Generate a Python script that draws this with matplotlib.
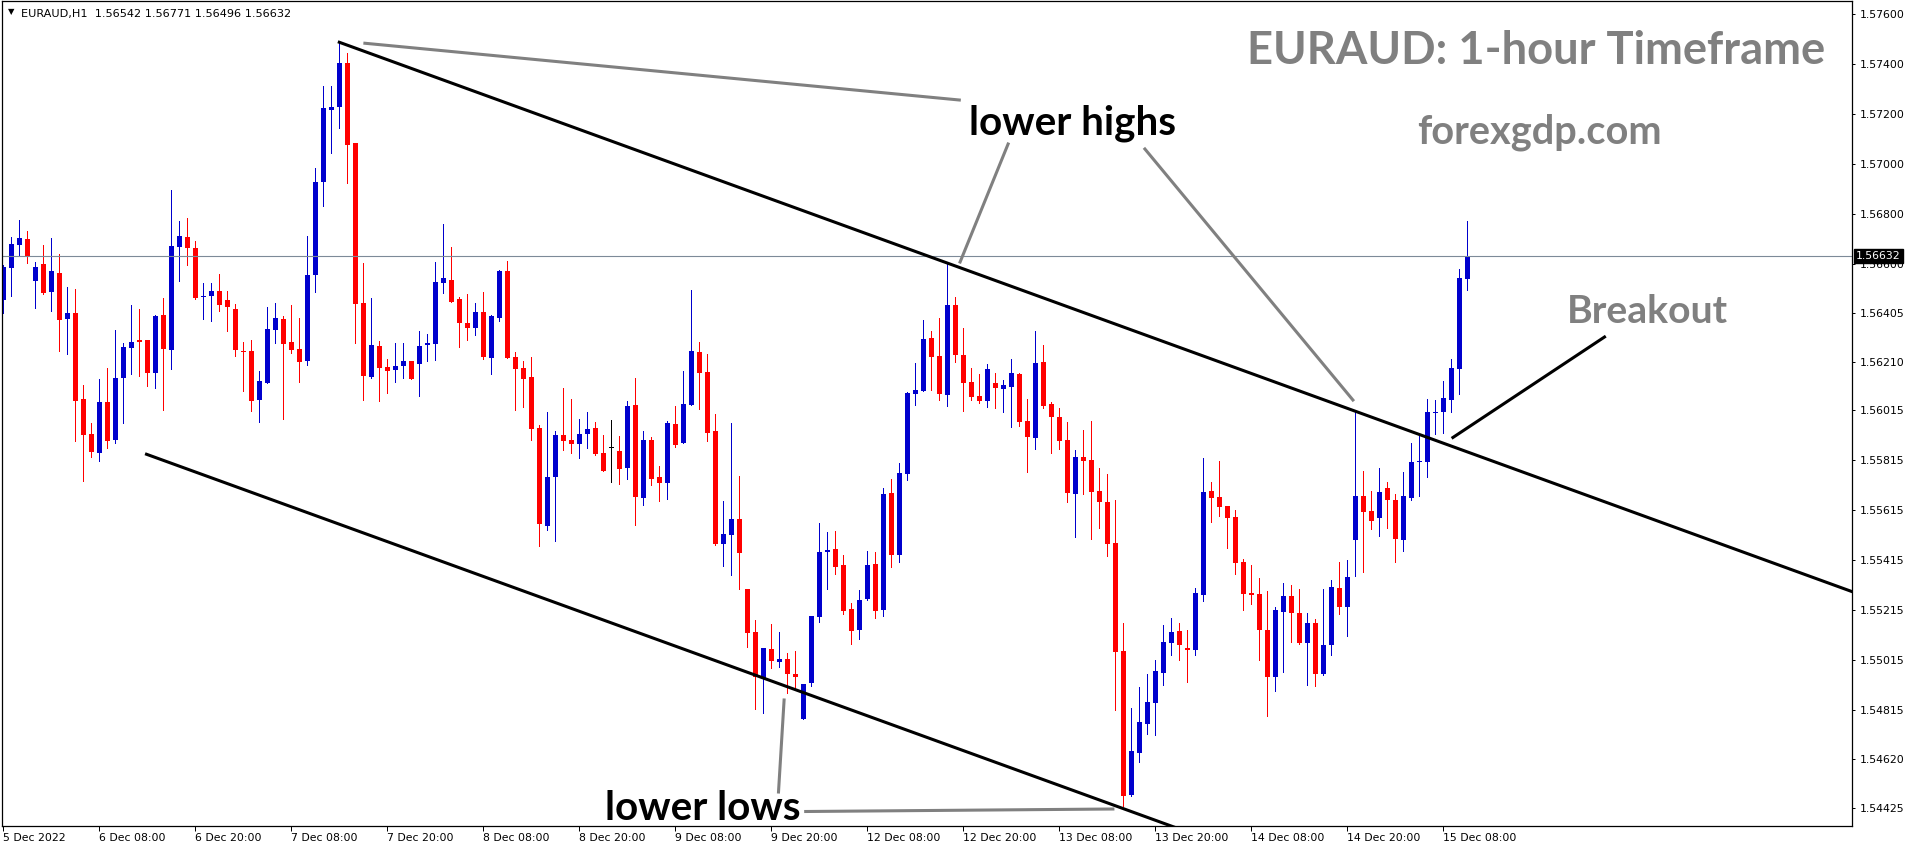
import numpy as np
import matplotlib
matplotlib.use('Agg')
import matplotlib.pyplot as plt

# EURAUD H1 bars, first bar 5 Dec 20:00, last bar 15 Dec 10:00
opens = [
    1.56456, 1.56584, 1.56676, 1.56700, 1.56532, 1.56600, 1.56488, 1.56564, 1.56380, 1.56404,
    1.56060, 1.55920, 1.55844, 1.56048, 1.55896, 1.56144, 1.56264, 1.56296, 1.56296, 1.56164,
    1.56396, 1.56256, 1.56668, 1.56708, 1.56664, 1.56468, 1.56472, 1.56492, 1.56456, 1.56420,
    1.56252, 1.56252, 1.56056, 1.56124, 1.56336, 1.56380, 1.56288, 1.56260, 1.56212, 1.56556,
    1.56928, 1.57216, 1.57228, 1.57404, 1.57084, 1.56444, 1.56148, 1.56272, 1.56188, 1.56176,
    1.56192, 1.56212, 1.56200, 1.56276, 1.56280, 1.56524, 1.56536, 1.56460, 1.56364, 1.56344,
    1.56408, 1.56224, 1.56384, 1.56572, 1.56228, 1.56184, 1.56148, 1.55944, 1.55552, 1.55748,
    1.55916, 1.55896, 1.55880, 1.55920, 1.55944, 1.55844, 1.55864, 1.55852, 1.55784, 1.56036,
    1.55664, 1.55896, 1.55748, 1.55724, 1.55960, 1.55884, 1.56036, 1.56248, 1.56168, 1.55932,
    1.55480, 1.55516, 1.55580, 1.55300, 1.55128, 1.54944, 1.55060, 1.55008, 1.55020, 1.54960,
    1.54780, 1.54924, 1.55188, 1.55448, 1.55460, 1.55396, 1.55220, 1.55136, 1.55260, 1.55400,
    1.55216, 1.55684, 1.55436, 1.55760, 1.56080, 1.56092, 1.56304, 1.56232, 1.56076, 1.56436,
    1.56236, 1.56128, 1.56072, 1.56052, 1.56124, 1.56100, 1.56108, 1.56160, 1.55972, 1.55904,
    1.56208, 1.56040, 1.55988, 1.55896, 1.55680, 1.55828, 1.55816, 1.55692, 1.55648, 1.55484,
    1.55052, 1.54476, 1.54644, 1.54760, 1.54844, 1.54964, 1.55084, 1.55132, 1.55064, 1.55056,
    1.55276, 1.55692, 1.55668, 1.55632, 1.55588, 1.55408, 1.55284, 1.55280, 1.55136, 1.54948,
    1.55208, 1.55272, 1.55204, 1.55084, 1.55164, 1.54960, 1.55076, 1.55304, 1.55228, 1.55496,
    1.55672, 1.55612, 1.55584, 1.55704, 1.55656, 1.55496, 1.55664, 1.55808, 1.55808, 1.56004,
    1.56008, 1.56056, 1.56180, 1.56542,
]
highs = [
    1.56596, 1.56708, 1.56776, 1.56732, 1.56608, 1.56676, 1.56704, 1.56640, 1.56508, 1.56500,
    1.56116, 1.55964, 1.56140, 1.56184, 1.56336, 1.56284, 1.56436, 1.56420, 1.56296, 1.56396,
    1.56464, 1.56896, 1.56772, 1.56784, 1.56692, 1.56524, 1.56524, 1.56560, 1.56492, 1.56440,
    1.56288, 1.56296, 1.56172, 1.56428, 1.56444, 1.56392, 1.56436, 1.56384, 1.56712, 1.56984,
    1.57312, 1.57312, 1.57488, 1.57444, 1.57084, 1.56604, 1.56464, 1.56292, 1.56220, 1.56284,
    1.56284, 1.56212, 1.56332, 1.56320, 1.56608, 1.56760, 1.56668, 1.56468, 1.56480, 1.56444,
    1.56488, 1.56396, 1.56576, 1.56612, 1.56248, 1.56212, 1.56228, 1.55956, 1.56008, 1.55932,
    1.56104, 1.56060, 1.55980, 1.56008, 1.55968, 1.55916, 1.55976, 1.55912, 1.56052, 1.56144,
    1.55932, 1.55908, 1.55792, 1.55972, 1.56032, 1.56172, 1.56496, 1.56288, 1.56240, 1.56000,
    1.55652, 1.55964, 1.55752, 1.55300, 1.55176, 1.55064, 1.55160, 1.55128, 1.55044, 1.55052,
    1.54920, 1.55192, 1.55564, 1.55528, 1.55532, 1.55436, 1.55244, 1.55296, 1.55452, 1.55448,
    1.55704, 1.55740, 1.55804, 1.56088, 1.56204, 1.56376, 1.56332, 1.56384, 1.56608, 1.56468,
    1.56344, 1.56184, 1.56160, 1.56200, 1.56164, 1.56136, 1.56220, 1.56164, 1.56060, 1.56332,
    1.56276, 1.56048, 1.56024, 1.55968, 1.55856, 1.55936, 1.55972, 1.55784, 1.55760, 1.55656,
    1.55164, 1.54824, 1.54908, 1.54960, 1.55016, 1.55156, 1.55184, 1.55164, 1.55136, 1.55304,
    1.55824, 1.55728, 1.55812, 1.55632, 1.55616, 1.55420, 1.55396, 1.55344, 1.55292, 1.55228,
    1.55324, 1.55316, 1.55300, 1.55204, 1.55180, 1.55300, 1.55336, 1.55408, 1.55416, 1.56012,
    1.55772, 1.55692, 1.55784, 1.55728, 1.55680, 1.55768, 1.55884, 1.55916, 1.56060, 1.56056,
    1.56132, 1.56220, 1.56580, 1.56771,
]
lows = [
    1.56404, 1.56472, 1.56632, 1.56604, 1.56424, 1.56480, 1.56412, 1.56252, 1.56240, 1.55892,
    1.55732, 1.55828, 1.55812, 1.55864, 1.55884, 1.55964, 1.56160, 1.56152, 1.56112, 1.56104,
    1.56016, 1.56180, 1.56532, 1.56596, 1.56460, 1.56380, 1.56372, 1.56412, 1.56332, 1.56232,
    1.56092, 1.56012, 1.55968, 1.56124, 1.56284, 1.55980, 1.56244, 1.56128, 1.56196, 1.56488,
    1.56832, 1.57044, 1.57144, 1.56924, 1.56284, 1.56056, 1.56144, 1.56052, 1.56084, 1.56128,
    1.56144, 1.56140, 1.56072, 1.56212, 1.56216, 1.56484, 1.56448, 1.56268, 1.56296, 1.56316,
    1.56220, 1.56160, 1.56372, 1.56224, 1.56016, 1.56028, 1.55896, 1.55472, 1.55536, 1.55492,
    1.55856, 1.55844, 1.55824, 1.55864, 1.55836, 1.55772, 1.55728, 1.55720, 1.55740, 1.55556,
    1.55636, 1.55716, 1.55652, 1.55660, 1.55868, 1.55884, 1.56036, 1.56020, 1.55892, 1.55476,
    1.55392, 1.55356, 1.55300, 1.55068, 1.54820, 1.54804, 1.54984, 1.54988, 1.54884, 1.54904,
    1.54780, 1.54912, 1.55168, 1.55300, 1.55360, 1.55200, 1.55080, 1.55100, 1.55256, 1.55184,
    1.55192, 1.55388, 1.55408, 1.55736, 1.56036, 1.56092, 1.56096, 1.56056, 1.56032, 1.56208,
    1.56012, 1.56056, 1.56044, 1.56028, 1.56024, 1.56008, 1.55948, 1.55952, 1.55768, 1.55860,
    1.56024, 1.55844, 1.55860, 1.55648, 1.55508, 1.55680, 1.55500, 1.55544, 1.55432, 1.54816,
    1.54432, 1.54472, 1.54608, 1.54720, 1.54716, 1.54916, 1.55036, 1.55016, 1.54928, 1.55036,
    1.55252, 1.55568, 1.55592, 1.55464, 1.55360, 1.55216, 1.55240, 1.55016, 1.54792, 1.54892,
    1.54968, 1.55088, 1.55080, 1.54916, 1.54912, 1.54956, 1.55036, 1.55200, 1.55112, 1.55352,
    1.55368, 1.55540, 1.55512, 1.55544, 1.55408, 1.55452, 1.55656, 1.55672, 1.55748, 1.55920,
    1.55924, 1.56008, 1.56080, 1.56496,
]
closes = [
    1.56588, 1.56680, 1.56704, 1.56632, 1.56588, 1.56484, 1.56572, 1.56376, 1.56404, 1.56052,
    1.55916, 1.55848, 1.56048, 1.55892, 1.56144, 1.56268, 1.56288, 1.56288, 1.56164, 1.56392,
    1.56260, 1.56672, 1.56712, 1.56664, 1.56464, 1.56472, 1.56492, 1.56436, 1.56428, 1.56256,
    1.56248, 1.56052, 1.56132, 1.56340, 1.56384, 1.56280, 1.56256, 1.56208, 1.56556, 1.56928,
    1.57224, 1.57228, 1.57404, 1.57076, 1.56440, 1.56152, 1.56276, 1.56184, 1.56172, 1.56192,
    1.56212, 1.56140, 1.56272, 1.56284, 1.56528, 1.56544, 1.56448, 1.56364, 1.56344, 1.56408,
    1.56228, 1.56392, 1.56572, 1.56224, 1.56180, 1.56140, 1.55940, 1.55560, 1.55748, 1.55916,
    1.55892, 1.55880, 1.55920, 1.55940, 1.55840, 1.55772, 1.55864, 1.55780, 1.56032, 1.55668,
    1.55896, 1.55740, 1.55724, 1.55964, 1.55876, 1.56040, 1.56252, 1.56164, 1.55924, 1.55480,
    1.55520, 1.55580, 1.55444, 1.55124, 1.54948, 1.55064, 1.55012, 1.55020, 1.54960, 1.54948,
    1.54920, 1.55192, 1.55448, 1.55456, 1.55388, 1.55212, 1.55132, 1.55256, 1.55396, 1.55212,
    1.55680, 1.55436, 1.55764, 1.56084, 1.56096, 1.56300, 1.56228, 1.56080, 1.56436, 1.56236,
    1.56124, 1.56068, 1.56052, 1.56180, 1.56104, 1.56116, 1.56164, 1.55968, 1.55908, 1.56204,
    1.56032, 1.55988, 1.55892, 1.55684, 1.55828, 1.55812, 1.55688, 1.55648, 1.55480, 1.55048,
    1.54472, 1.54652, 1.54768, 1.54848, 1.54972, 1.55088, 1.55128, 1.55076, 1.55056, 1.55284,
    1.55688, 1.55664, 1.55628, 1.55584, 1.55404, 1.55280, 1.55276, 1.55136, 1.54948, 1.55216,
    1.55272, 1.55204, 1.55084, 1.55164, 1.54960, 1.55076, 1.55308, 1.55228, 1.55348, 1.55672,
    1.55608, 1.55572, 1.55688, 1.55656, 1.55500, 1.55672, 1.55808, 1.55812, 1.56008, 1.56008,
    1.56064, 1.56184, 1.56544, 1.56632,
]

date_labels = ['5 Dec 2022', '6 Dec 08:00', '6 Dec 20:00', '7 Dec 08:00', '7 Dec 20:00',
               '8 Dec 08:00', '8 Dec 20:00', '9 Dec 08:00', '9 Dec 20:00', '12 Dec 08:00',
               '12 Dec 20:00', '13 Dec 08:00', '13 Dec 20:00', '14 Dec 08:00', '14 Dec 20:00',
               '15 Dec 08:00']
price_ticks = [1.57600, 1.57400, 1.57200, 1.57000, 1.56800, 1.56600, 1.56405, 1.56210,
               1.56015, 1.55815, 1.55615, 1.55415, 1.55215, 1.55015, 1.54815, 1.54620, 1.54425]

# channel lines, (bar index, price)
upper_x, upper_y = [42, 232], [1.57487, 1.55279]
lower_x, lower_y = [17.9, 146.5], [1.55839, 1.54346]
# grey pointer lines and the breakout pointer, (bar index, price)
pointer_lines = [
    ([45.2, 119.5], [1.57483, 1.57256]),
    ([125.6, 119.6], [1.57080, 1.56608]),
    ([142.7, 168.7], [1.57060, 1.56056]),
    ([97.6, 96.9], [1.54856, 1.54488]),
    ([100.3, 138.7], [1.54410, 1.54420]),
]
breakout_x, breakout_y = [181.2, 200.15], [1.55906, 1.56308]

W, H = 1916, 850
fig = plt.figure(figsize=(W / 100, H / 100), dpi=100)
ax = fig.add_axes([2 / W, 24 / H, 1850 / W, 825 / H])

o = np.array(opens)
h = np.array(highs)
l = np.array(lows)
c = np.array(closes)
x = np.arange(len(o))
cols = np.where(c > o, '#0000cd', np.where(c < o, '#ff0000', '#000000'))

ax.vlines(x, l, h, colors=cols, lw=0.72, antialiased=False)
body = np.maximum(np.abs(c - o), 0.00003)
ax.bar(x, body, bottom=np.minimum(o, c), width=0.625, color=cols,
       linewidth=0, antialiased=False)

last = closes[-1]
ax.axhline(last, color='#7d8a98', lw=0.8)

ax.plot(upper_x, upper_y, color='black', lw=2.2)
ax.plot(lower_x, lower_y, color='black', lw=2.2)
for px_, py_ in pointer_lines:
    ax.plot(px_, py_, color='#808080', lw=2.2)
ax.plot(breakout_x, breakout_y, color='black', lw=2.2)

ax.set_xlim(-0.1625, 231.0875)
ax.set_ylim(1.54352, 1.57652)

ax.yaxis.tick_right()
ax.set_yticks(price_ticks)
ax.set_yticklabels([f'{p:.5f}' for p in price_ticks])
ax.tick_params(axis='y', direction='out', length=2.5, width=0.72, pad=3,
               labelsize=7.8, colors='black')
ax.set_xticks(np.arange(0, len(o), 12)[:len(date_labels)])
ax.set_xticklabels(date_labels)
for lab in ax.get_xticklabels():
    lab.set_horizontalalignment('left')
ax.tick_params(axis='x', direction='out', length=3.5, width=0.72, pad=1.5,
               labelsize=7.8)
for s in ax.spines.values():
    s.set_linewidth(0.9)

ax.annotate(f'{last:.5f}', xy=(1, last), xycoords=('axes fraction', 'data'),
            xytext=(4, 0), textcoords='offset pixels', ha='left', va='center',
            color='white', fontsize=7.8,
            bbox=dict(boxstyle='square,pad=0.18', fc='black', ec='black'))

renderer = fig.canvas.get_renderer()


def fit(t, width):
    w = t.get_window_extent(renderer).width
    t.set_fontsize(t.get_fontsize() * width / w)


def put(xp, yp, s, width, **kw):
    t = fig.text(xp / W, 1 - yp / H, s, va='baseline', **kw)
    fit(t, width)
    return t


bold = dict(ha='center', fontweight='bold', family='Lato', fontsize=30)
put(1536.5, 64.3, 'EURAUD: 1-hour Timeframe', 579, color='#808080', **bold)
put(1539.4, 143.3, 'forexgdp.com', 244, color='#808080', **bold)
put(1647.2, 322.7, 'Breakout', 161, color='#808080', **bold)
put(1072.5, 134.5, 'lower highs', 207, color='black', **bold)
put(702.5, 820, 'lower lows', 195, color='black', **bold)

put(20.7, 17.3, f'EURAUD,H1  {opens[-1]:.5f} {highs[-1]:.5f} {lows[-1]:.5f} {closes[-1]:.5f}',
    268.6, ha='left', fontsize=8, color='black')
fig.text(11 / W, 1 - 11.7 / H, '\u25bc', ha='center', va='center', fontsize=6)

fig.savefig('out.png', dpi=100)
